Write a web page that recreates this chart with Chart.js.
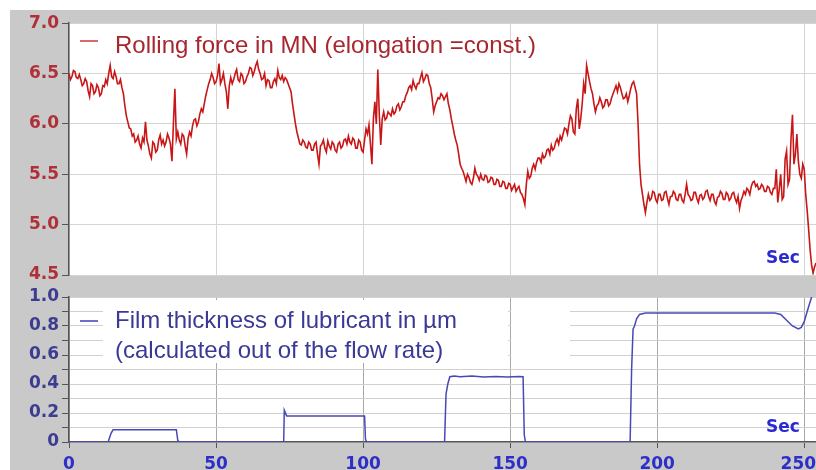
<!DOCTYPE html>
<html>
<head>
<meta charset="utf-8">
<script src="https://cdn.jsdelivr.net/npm/chart.js@4.4.1/dist/chart.umd.min.js"></script>
<style>
  body { margin: 0; background: #fff; width: 816px; height: 470px; overflow: hidden; }
  #frame { position: absolute; left: 10px; top: 10px; width: 806px; height: 460px; background: #c9c9c9; }
  #top-chart { position: absolute; left: 0; top: 0; }
  #bottom-chart { position: absolute; left: 0; top: 270px; }
</style>
</head>
<body>
<div id="frame">
  <canvas id="top-chart" width="806" height="285"></canvas>
  <canvas id="bottom-chart" width="806" height="190"></canvas>
</div>
<script>
// rolling force in MN, one reading every half second (t = 0..254 s)
const forceLabel = "Rolling force in MN (elongation =const.)";
const forceStep = 0.5;
const forceValues = [
  6.50, 6.44, 6.47, 6.53, 6.52, 6.46, 6.45, 6.49, 6.44, 6.38,
  6.40, 6.45, 6.42, 6.33, 6.27, 6.40, 6.38, 6.30, 6.32, 6.39,
  6.36, 6.28, 6.30, 6.38, 6.37, 6.44, 6.40, 6.50, 6.58, 6.47,
  6.45, 6.52, 6.47, 6.40, 6.40, 6.44, 6.36, 6.30, 6.18, 6.08,
  6.02, 5.96, 5.95, 5.88, 5.90, 5.82, 5.84, 5.88, 5.80, 5.76,
  5.86, 5.82, 6.02, 5.84, 5.78, 5.70, 5.66, 5.82, 5.80, 5.72,
  5.74, 5.84, 5.89, 5.80, 5.84, 5.78, 5.82, 5.90, 5.86, 5.80,
  5.63, 6.00, 6.35, 5.85, 5.92, 5.84, 5.80, 5.90, 5.88, 5.78,
  5.70, 5.86, 5.92, 5.88, 5.98, 6.04, 6.05, 5.98, 6.02, 6.10,
  6.15, 6.12, 6.20, 6.28, 6.34, 6.40, 6.44, 6.50, 6.46, 6.40,
  6.42, 6.48, 6.60, 6.40, 6.44, 6.50, 6.40, 6.32, 6.15, 6.38,
  6.46, 6.40, 6.44, 6.50, 6.54, 6.44, 6.42, 6.50, 6.48, 6.40,
  6.42, 6.47, 6.50, 6.56, 6.55, 6.48, 6.52, 6.58, 6.62, 6.54,
  6.50, 6.44, 6.45, 6.50, 6.38, 6.44, 6.43, 6.36, 6.36, 6.42,
  6.45, 6.40, 6.53, 6.46, 6.44, 6.48, 6.42, 6.46, 6.44, 6.40,
  6.36, 6.32, 6.20, 6.10, 6.00, 5.92, 5.86, 5.80, 5.79, 5.84,
  5.82, 5.77, 5.76, 5.82, 5.80, 5.74, 5.74, 5.80, 5.82, 5.70,
  5.60, 5.78, 5.80, 5.84, 5.76, 5.72, 5.83, 5.78, 5.75, 5.82,
  5.80, 5.74, 5.72, 5.80, 5.82, 5.76, 5.78, 5.84, 5.85, 5.80,
  5.88, 5.82, 5.80, 5.86, 5.84, 5.76, 5.76, 5.84, 5.82, 5.74,
  5.72, 5.84, 5.95, 5.90, 5.99, 5.80, 5.60, 6.05, 6.22, 6.00,
  6.54, 6.10, 5.79, 6.05, 6.12, 6.04, 6.06, 6.12, 6.10, 6.08,
  6.15, 6.10, 6.12, 6.18, 6.20, 6.14, 6.17, 6.22, 6.22, 6.28,
  6.31, 6.36, 6.38, 6.34, 6.43, 6.38, 6.35, 6.40, 6.40, 6.46,
  6.51, 6.42, 6.45, 6.49, 6.48, 6.40, 6.36, 6.25, 6.12, 6.18,
  6.22, 6.26, 6.25, 6.30, 6.28, 6.24, 6.27, 6.30, 6.20, 6.14,
  6.05, 5.98, 5.90, 5.84, 5.79, 5.70, 5.60, 5.56, 5.53, 5.48,
  5.43, 5.50, 5.47, 5.42, 5.40, 5.46, 5.56, 5.50, 5.48, 5.44,
  5.50, 5.45, 5.44, 5.49, 5.48, 5.42, 5.43, 5.47, 5.46, 5.40,
  5.40, 5.45, 5.44, 5.38, 5.38, 5.43, 5.42, 5.36, 5.36, 5.41,
  5.40, 5.34, 5.37, 5.40, 5.33, 5.36, 5.38, 5.32, 5.30, 5.26,
  5.20, 5.40, 5.53, 5.46, 5.48, 5.56, 5.60, 5.55, 5.62, 5.66,
  5.66, 5.62, 5.70, 5.66, 5.68, 5.74, 5.75, 5.70, 5.79, 5.74,
  5.76, 5.82, 5.85, 5.80, 5.88, 5.84, 5.90, 5.96, 5.95, 5.90,
  6.00, 6.08, 6.05, 5.92, 5.90, 6.15, 6.25, 5.95, 6.05, 6.20,
  6.40, 6.30, 6.58, 6.50, 6.42, 6.35, 6.30, 6.20, 6.12, 6.18,
  6.20, 6.26, 6.22, 6.16, 6.18, 6.24, 6.24, 6.18, 6.20, 6.26,
  6.30, 6.34, 6.38, 6.32, 6.40, 6.36, 6.30, 6.25, 6.26, 6.30,
  6.22, 6.28, 6.35, 6.40, 6.42, 6.36, 6.30, 6.00, 5.60, 5.40,
  5.30, 5.20, 5.12, 5.22, 5.30, 5.24, 5.26, 5.33, 5.32, 5.25,
  5.22, 5.30, 5.30, 5.24, 5.25, 5.32, 5.33, 5.26, 5.20, 5.28,
  5.28, 5.33, 5.31, 5.25, 5.24, 5.30, 5.30, 5.24, 5.22, 5.30,
  5.40, 5.30, 5.28, 5.24, 5.25, 5.32, 5.32, 5.26, 5.22, 5.29,
  5.30, 5.25, 5.27, 5.33, 5.34, 5.28, 5.24, 5.30, 5.30, 5.23,
  5.20, 5.27, 5.28, 5.33, 5.31, 5.25, 5.25, 5.32, 5.30, 5.24,
  5.26, 5.31, 5.32, 5.26, 5.22, 5.28, 5.16, 5.24, 5.28, 5.33,
  5.30, 5.36, 5.34, 5.30, 5.38, 5.42, 5.43, 5.38, 5.40, 5.35,
  5.36, 5.40, 5.38, 5.33, 5.33, 5.38, 5.37, 5.32, 5.30, 5.36,
  5.36, 5.55, 5.22, 5.35, 5.50, 5.25, 5.28, 5.65, 5.73, 5.40,
  5.45, 5.85, 6.09, 5.60, 5.70, 5.90, 5.63, 5.50, 5.46, 5.60,
  5.55, 5.30, 5.14, 4.95, 4.75, 4.60, 4.52, 4.58, 4.62
];

// film thickness of lubricant in µm
const filmLabel = ["Film thickness of lubricant in \u00b5m", "(calculated out of the flow rate)"];
const filmTimes = [
  0, 13.3, 14.3, 15, 36.5, 37, 37.5, 73, 73.2, 74,
  100.5, 100.8, 101.2, 127.7, 128.2, 128.8, 129.5, 131, 133, 137,
  141, 145, 149, 153, 154.4, 154.8, 155.2, 190.8, 191.3, 191.8,
  192.3, 193, 194, 196, 240, 242, 244, 246, 248, 249,
  250, 251, 252.5, 254
];
const filmValues = [
  0, 0, 0.06, 0.085, 0.085, 0.01, 0, 0, 0.22, 0.18,
  0.18, 0.02, 0, 0, 0.33, 0.40, 0.45, 0.455, 0.45, 0.455,
  0.448, 0.452, 0.448, 0.452, 0.45, 0.05, 0, 0, 0.5, 0.78,
  0.80, 0.85, 0.88, 0.89, 0.89, 0.88, 0.84, 0.80, 0.78, 0.79,
  0.83, 0.90, 1.0, 1.05
];

const xTickValues = [0, 50, 100, 150, 200, 250];
const xTickLabels = ["0", "50", "100", "150", "200", "250"];
const forceTickLabels = ["4.5", "5.0", "5.5", "6.0", "6.5", "7.0"];
const filmTickLabels = ["0", "0.2", "0.4", "0.6", "0.8", "1.0"];
const unitLabel = "Sec";

const tickFont = { family: "DejaVu Sans", size: 17, weight: "bold" };
const legendFont = "24px 'Liberation Sans', Arial, sans-serif";
const secFont = "bold 17px 'DejaVu Sans', sans-serif";

function fixedXTicks(scale) {
  scale.ticks = xTickValues.map(v => ({ value: v }));
}

// white plot area, legend text and the "Sec" unit inside the plot
function panelPlugin(opts) {
  return {
    id: "panel",
    beforeDraw(chart) {
      const { ctx, chartArea: a } = chart;
      ctx.save();
      ctx.fillStyle = "#fff";
      ctx.fillRect(a.left, a.top, a.right - a.left, a.bottom - a.top);
      ctx.restore();
    },
    beforeDatasetsDraw(chart) {
      if (!opts.boxes) return;
      const { ctx } = chart;
      ctx.save();
      ctx.fillStyle = "#fff";
      opts.boxes.forEach(b => ctx.fillRect(b[0], b[1], b[2], b[3]));
      ctx.restore();
    },
    afterDraw(chart) {
      const { ctx } = chart;
      ctx.save();
      ctx.strokeStyle = opts.dashColor;
      ctx.lineWidth = 2;
      ctx.beginPath();
      ctx.moveTo(70, opts.dashY);
      ctx.lineTo(88, opts.dashY);
      ctx.stroke();
      ctx.font = legendFont;
      ctx.fillStyle = opts.textColor;
      ctx.textBaseline = "alphabetic";
      opts.lines.forEach((s, i) => ctx.fillText(s, 105, opts.baseY + i * 30));
      ctx.font = secFont;
      ctx.fillStyle = "#2a2ad0";
      ctx.fillText(unitLabel, 756, opts.secY);
      ctx.restore();
    }
  };
}

new Chart(document.getElementById("top-chart"), {
  type: "line",
  data: {
    datasets: [{
      label: forceLabel,
      data: forceValues.map((v, i) => ({ x: i * forceStep, y: v })),
      borderColor: "#c81616",
      borderWidth: 1.6,
      pointRadius: 0,
      tension: 0
    }]
  },
  options: {
    responsive: false,
    animation: false,
    layout: { padding: { top: 10, right: 0, bottom: 20, left: 0 } },
    plugins: { legend: { display: false }, tooltip: { enabled: false } },
    scales: {
      x: {
        type: "linear", min: 0, max: 254,
        ticks: { display: false },
        grid: { color: "#d4d4d4", drawTicks: false },
        border: { display: false },
        afterBuildTicks: fixedXTicks,
        afterFit: s => { s.height = 0; s.paddingLeft = 0; s.paddingRight = 0; }
      },
      y: {
        min: 4.5, max: 7.0,
        ticks: {
          stepSize: 0.5, color: "#b03038", font: tickFont, padding: 3,
          callback: (v, i) => forceTickLabels[i]
        },
        grid: { color: "#d4d4d4", tickColor: "#555", tickLength: 7 },
        border: { color: "#555", width: 1.5 },
        afterFit: s => { s.width = 59; }
      }
    }
  },
  plugins: [panelPlugin({
    dashColor: "#d86a6a", textColor: "#a8262e",
    lines: [forceLabel], dashY: 31, baseY: 43, secY: 253
  })]
});

new Chart(document.getElementById("bottom-chart"), {
  type: "line",
  data: {
    datasets: [{
      label: filmLabel[0],
      data: filmTimes.map((t, i) => ({ x: t, y: filmValues[i] })),
      borderColor: "#4848b8",
      borderWidth: 1.5,
      pointRadius: 0,
      tension: 0
    }]
  },
  options: {
    responsive: false,
    animation: false,
    layout: { padding: { top: 17, right: 0, bottom: 0, left: 0 } },
    plugins: { legend: { display: false }, tooltip: { enabled: false } },
    scales: {
      x: {
        type: "linear", min: 0, max: 254,
        ticks: {
          color: "#2e2ec8", font: tickFont, padding: 6,
          maxRotation: 0, autoSkip: false,
          // the last label sits against the right edge, nudge it inwards
          callback: (v, i) => i === xTickLabels.length - 1 ? xTickLabels[i] + "\u2007" : xTickLabels[i]
        },
        grid: { color: "#a8a8a8", tickColor: "#555", tickLength: 6 },
        border: { color: "#555", width: 1.5 },
        afterBuildTicks: fixedXTicks,
        afterFit: s => { s.height = 28; s.paddingLeft = 0; s.paddingRight = 0; }
      },
      y: {
        min: 0, max: 1.0,
        ticks: {
          stepSize: 0.1, color: "#3c3c90", font: tickFont, padding: 3,
          autoSkip: false,
          callback: v => {
            const i = Math.round(v * 10);
            return i % 2 ? "" : filmTickLabels[i / 2];
          }
        },
        grid: { color: "#d0d0d0", tickColor: "#555", tickLength: 7 },
        border: { color: "#555", width: 1.5 },
        afterFit: s => { s.width = 59; }
      }
    }
  },
  plugins: [panelPlugin({
    dashColor: "#7070c8", textColor: "#3a3a96",
    lines: filmLabel, dashY: 41, baseY: 48, secY: 152,
    boxes: [[93, 20, 405, 63], [501, 20, 59, 63]]
  })]
});
</script>
</body>
</html>
